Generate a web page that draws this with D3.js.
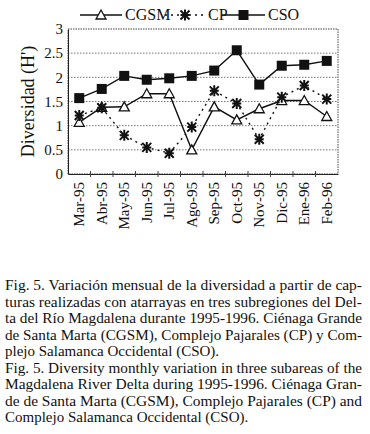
<!DOCTYPE html>
<html lang="es">
<head>
    <meta charset="UTF-8">
    <title>Fig. 5</title>
    <script src="https://cdn.jsdelivr.net/npm/d3@7/dist/d3.min.js"></script>
    <style>
        body { margin: 0; background: #fff; }
        svg text { font-family: "Liberation Serif", "DejaVu Serif", serif; fill: #111; }
    </style>
</head>
<body>
<script>
    // data
    let months = ["Mar-95", "Abr-95", "May-95", "Jun-95", "Jul-95", "Ago-95",
        "Sep-95", "Oct-95", "Nov-95", "Dic-95", "Ene-96", "Feb-96"];
    let cgsm = [1.07, 1.38, 1.39, 1.66, 1.66, 0.50, 1.39, 1.12, 1.35, 1.52, 1.52, 1.19];
    let cp = [1.21, 1.37, 0.80, 0.55, 0.43, 0.97, 1.72, 1.46, 0.72, 1.59, 1.83, 1.55];
    let cso = [1.57, 1.76, 2.03, 1.95, 1.98, 2.03, 2.14, 2.56, 1.85, 2.24, 2.26, 2.34];
    let yTicks = [0, 0.5, 1, 1.5, 2, 2.5, 3];
    let caption = [
        "Fig. 5. Variación mensual de la diversidad a partir de cap-",
        "turas realizadas con atarrayas en tres subregiones del Del-",
        "ta del Río Magdalena durante 1995-1996. Ciénaga Grande",
        "de Santa Marta (CGSM), Complejo Pajarales (CP) y Com-",
        "plejo Salamanca Occidental (CSO).",
        "Fig. 5. Diversity monthly variation in three subareas of the",
        "Magdalena River Delta during 1995-1996. Ciénaga Gran-",
        "de de Santa Marta (CGSM), Complejo Pajarales (CP) and",
        "Complejo Salamanca Occidental (CSO)."
    ];

    let width = 370;
    let height = 434;
    let margin = {top: 29, right: 32, left: 68};
    let plotBottom = 174;

    let svg = d3.select("body").append("svg")
        .attr("width", width)
        .attr("height", height);

    let x = d3.scaleBand()
        .domain(months)
        .range([margin.left, width - margin.right]);

    let y = d3.scaleLinear()
        .domain([0, 3])
        .range([plotBottom, margin.top]);

    // grid lines
    svg.append("g")
        .selectAll("line")
        .data(yTicks.filter(d => d > 0 && d < 3))
        .join("line")
        .attr("x1", margin.left)
        .attr("x2", width - margin.right)
        .attr("y1", d => y(d))
        .attr("y2", d => y(d))
        .attr("stroke", "#777")
        .attr("stroke-width", 1)
        .attr("stroke-dasharray", "1.5,1.5");

    // frame
    svg.append("rect")
        .attr("x", margin.left)
        .attr("y", y(3))
        .attr("width", width - margin.right - margin.left)
        .attr("height", y(0) - y(3))
        .attr("fill", "none")
        .attr("stroke", "#444")
        .attr("stroke-dasharray", "1.5,1");

    let yAxis = d3.axisLeft(y)
        .tickValues(yTicks)
        .tickFormat(d => d)
        .tickSize(0)
        .tickPadding(5);

    let gy = svg.append("g")
        .attr("transform", `translate(${margin.left},0)`)
        .call(yAxis);
    gy.select(".domain").attr("stroke", "#222");
    gy.selectAll("text").attr("font-size", "15px");

    let xAxis = d3.axisBottom(x)
        .tickSize(0)
        .tickPadding(8);

    let gx = svg.append("g")
        .attr("transform", `translate(0,${plotBottom})`)
        .call(xAxis);
    gx.select(".domain").attr("stroke", "#222");
    gx.selectAll("text")
        .attr("font-size", "15px")
        .attr("transform", "rotate(-90)")
        .attr("text-anchor", "end")
        .attr("dy", "0.33em")
        .attr("x", -8)
        .attr("y", 0);

    // small ticks on bottom axis between months
    svg.append("g")
        .selectAll("line")
        .data(months.slice(1))
        .join("line")
        .attr("x1", d => x(d))
        .attr("x2", d => x(d))
        .attr("y1", plotBottom - 3)
        .attr("y2", plotBottom + 3)
        .attr("stroke", "#444");

    svg.append("text")
        .attr("transform", `translate(34,${(y(0) + y(3)) / 2}) rotate(-90)`)
        .attr("text-anchor", "middle")
        .attr("font-size", "18px")
        .text("Diversidad (H')");

    let line = d3.line()
        .x((d, i) => x(months[i]) + x.bandwidth() / 2)
        .y(d => y(d));

    let cx = i => x(months[i]) + x.bandwidth() / 2;

    function triangle(g, px, py) {
        g.append("path")
            .attr("d", `M${px},${py - 5}L${px + 5},${py + 4}L${px - 5},${py + 4}Z`)
            .attr("fill", "#fff")
            .attr("stroke", "#111")
            .attr("stroke-width", 1.3);
    }
    function star(g, px, py) {
        let s = 4.5;
        g.append("path")
            .attr("d", `M${px - s},${py - s}L${px + s},${py + s}M${px - s},${py + s}L${px + s},${py - s}M${px},${py - s - 1}L${px},${py + s + 1}M${px - s},${py}L${px + s},${py}`)
            .attr("stroke", "#111")
            .attr("stroke-width", 2);
    }
    function square(g, px, py) {
        g.append("rect")
            .attr("x", px - 5).attr("y", py - 5)
            .attr("width", 10).attr("height", 10)
            .attr("fill", "#111");
    }

    let series = [
        {name: "CGSM", values: cgsm, dash: null, mark: triangle},
        {name: "CP", values: cp, dash: "2,4", mark: star},
        {name: "CSO", values: cso, dash: null, mark: square}
    ];

    series.forEach(s => {
        svg.append("path")
            .attr("d", line(s.values))
            .attr("fill", "none")
            .attr("stroke", "#111")
            .attr("stroke-width", 1.4)
            .attr("stroke-dasharray", s.dash);
        let g = svg.append("g");
        s.values.forEach((v, i) => s.mark(g, cx(i), y(v)));
    });

    // legend
    let legendPos = [80, 165, 222];
    let legendW = [42, 40, 43];
    series.forEach((s, i) => {
        let lx = legendPos[i];
        let g = svg.append("g");
        g.append("line")
            .attr("x1", lx).attr("x2", lx + legendW[i])
            .attr("y1", 15).attr("y2", 15)
            .attr("stroke", "#111")
            .attr("stroke-width", 1.4)
            .attr("stroke-dasharray", s.dash);
        s.mark(g, lx + legendW[i] / 2, 15);
        g.append("text")
            .attr("x", lx + legendW[i] + 3)
            .attr("y", 20)
            .attr("font-size", "16px")
            .text(s.name);
    });

    // caption
    svg.append("g")
        .selectAll("text")
        .data(caption)
        .join("text")
        .attr("x", 5)
        .attr("y", (d, i) => 290 + i * 16.5)
        .attr("font-size", "15px")
        .attr("textLength", (d, i) => (i === 4 || i === 8) ? null : 357)
        .attr("lengthAdjust", "spacingAndGlyphs")
        .text(d => d);
</script>
</body>
</html>
